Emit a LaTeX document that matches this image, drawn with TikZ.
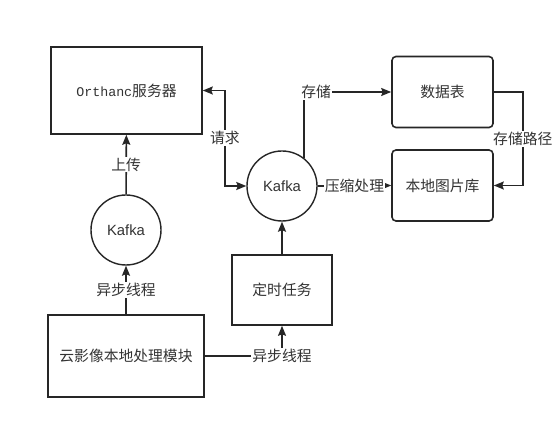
\documentclass[tikz,border=0pt]{standalone}
\usepackage{fontspec}
\setmainfont{Liberation Sans}
\newfontfamily\cjk{Noto Sans CJK SC}
\newfontfamily\orthfont{Liberation Mono}
\usetikzlibrary{arrows.meta}
\definecolor{lnc}{HTML}{262626}
\definecolor{txc}{HTML}{333333}

\begin{document}
\begin{tikzpicture}[
  x=1pt,y=-1pt,
  box/.style={draw=lnc,line width=1.6pt,fill=white,minimum width=#1,text=txc,font=\fontsize{14.8}{16}\cjk},
  box/.default=150pt,
  rbox/.style={box=101pt,rounded corners=4pt,minimum height=71pt},
  ring/.style={circle,draw=lnc,line width=1.4pt,fill=white,minimum size=70pt,inner sep=0pt,text=txc,font=\fontsize{14.8}{16}\selectfont},
  arr/.style={-{Stealth[length=10pt,width=8pt,inset=1.5pt]},draw=lnc,line width=1.6pt},
  lbl/.style={fill=white,inner sep=1pt,text=txc,font=\fontsize{14.8}{16}\cjk}
]
\useasboundingbox (0,0) rectangle (555,430);

\node[box=151pt,minimum height=87pt] (orthanc) at (126.5,90.5) {{\orthfont\fontsize{13.3}{16}\selectfont Orthanc}服务器};
\node[ring] (kafkaA) at (126,230) {Kafka};
\node[box=156pt,minimum height=82pt] (local) at (126,356) {云影像本地处理模块};
\node[ring] (kafkaB) at (282,186) {Kafka};
\node[box=100pt,minimum height=70pt] (timer) at (282,290) {定时任务};
\node[rbox] (table) at (442.5,92) {数据表};
\node[rbox] (lib) at (442.5,185.5) {本地图片库};

\draw[arr] (kafkaA) -- node[lbl]{上传} (orthanc);
\draw[arr] (local) -- node[lbl]{异步线程} (kafkaA);
\draw[arr] (timer) -- (kafkaB);
\draw[arr] (local.east) -| node[lbl,pos=0.5]{异步线程} (timer.south);
\draw[arr,{Stealth[length=10pt,width=8pt,inset=1.5pt]}-{Stealth[length=10pt,width=8pt,inset=1.5pt]}] (orthanc.east) -- ++(22,0) |- node[lbl,pos=0.25]{请求} (kafkaB.west);
\draw[arr] (kafkaB.52) |- node[lbl,pos=0.57]{存储} (table.west);
\draw[arr] (kafkaB.east) -- node[lbl]{压缩处理} (lib.west);
\draw[arr] (table.east) -- ++(29,0) |- node[lbl,pos=0.25]{存储路径} (lib.east);
\end{tikzpicture}
\end{document}
